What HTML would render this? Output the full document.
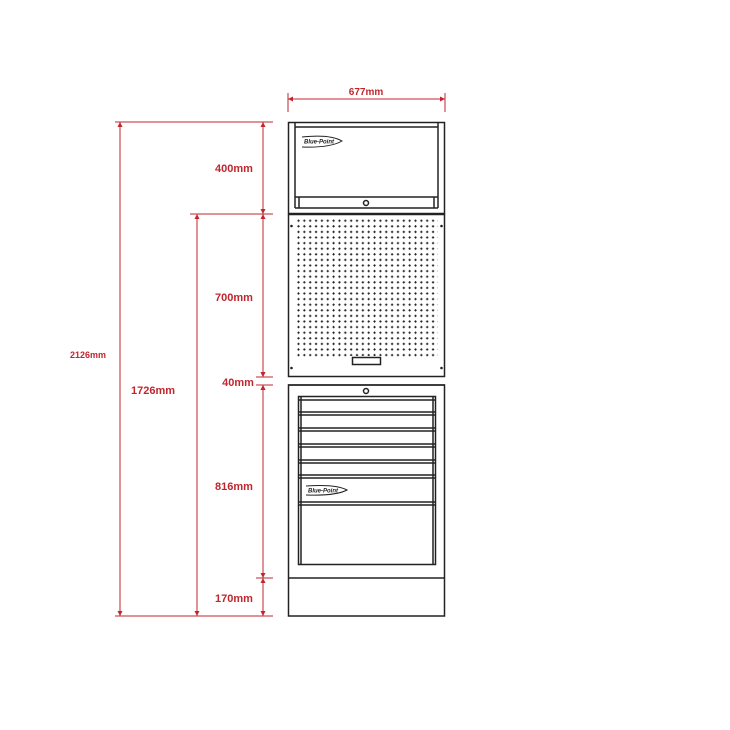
<!DOCTYPE html>
<html><head><style>html,body{margin:0;padding:0;background:#fff;width:730px;height:730px;overflow:hidden}</style></head>
<body>
<svg width="730" height="730" viewBox="0 0 730 730" xmlns="http://www.w3.org/2000/svg">
<defs>
<pattern id="dots" x="296" y="218" width="5.85" height="5.6" patternUnits="userSpaceOnUse">
<rect x="1.3" y="2.2" width="2.4" height="1" fill="#222"/>
<rect x="2" y="1.5" width="1" height="2.4" fill="#222"/>
</pattern>
<marker id="ar" viewBox="0 0 6 6" refX="6" refY="3" markerWidth="5" markerHeight="5" orient="auto-start-reverse"><path d="M0,0 L6,3 L0,6 z" fill="#c0262d"/></marker>
</defs>
<g stroke="#c0262d" stroke-width="1" fill="none">
<line x1="288" y1="99" x2="445" y2="99" marker-start="url(#ar)" marker-end="url(#ar)"/>
<line x1="288" y1="93" x2="288" y2="112"/><line x1="445" y1="93" x2="445" y2="112"/>
<line x1="115" y1="122" x2="273" y2="122"/>
<line x1="115" y1="616" x2="273" y2="616"/>
<line x1="190" y1="214" x2="273" y2="214"/>
<line x1="256" y1="377" x2="273" y2="377"/>
<line x1="256" y1="385" x2="273" y2="385"/>
<line x1="256" y1="578" x2="273" y2="578"/>
<line x1="120" y1="122" x2="120" y2="616" marker-start="url(#ar)" marker-end="url(#ar)"/>
<line x1="197" y1="214" x2="197" y2="616" marker-start="url(#ar)" marker-end="url(#ar)"/>
<line x1="263" y1="122" x2="263" y2="214" marker-start="url(#ar)" marker-end="url(#ar)"/>
<line x1="263" y1="214" x2="263" y2="377" marker-start="url(#ar)" marker-end="url(#ar)"/>
<line x1="263" y1="370" x2="263" y2="377" marker-end="url(#ar)"/>
<line x1="263" y1="392" x2="263" y2="385" marker-end="url(#ar)"/>
<line x1="263" y1="385" x2="263" y2="578" marker-start="url(#ar)" marker-end="url(#ar)"/>
<line x1="263" y1="578" x2="263" y2="616" marker-start="url(#ar)" marker-end="url(#ar)"/>
</g>
<g fill="#c0262d" font-family="Liberation Sans, sans-serif" font-weight="bold">
<text x="366" y="95" font-size="10" text-anchor="middle">677mm</text>
<text x="88" y="358" font-size="9" text-anchor="middle">2126mm</text>
<text x="153" y="394" font-size="11" text-anchor="middle">1726mm</text>
<text x="234" y="172" font-size="11" text-anchor="middle">400mm</text>
<text x="234" y="301" font-size="11" text-anchor="middle">700mm</text>
<text x="238" y="386" font-size="11" text-anchor="middle">40mm</text>
<text x="234" y="490" font-size="11" text-anchor="middle">816mm</text>
<text x="234" y="602" font-size="11" text-anchor="middle">170mm</text>
</g>
<g stroke="#222" fill="none" stroke-width="1.5">
<rect x="288.5" y="122.5" width="156" height="91"/>
<line x1="295" y1="122" x2="295" y2="208"/><line x1="438" y1="122" x2="438" y2="208"/>
<line x1="295" y1="127" x2="438" y2="127"/>
<line x1="295" y1="197" x2="438" y2="197"/>
<line x1="295" y1="208" x2="438" y2="208"/>
<line x1="299" y1="197" x2="299" y2="208"/><line x1="434" y1="197" x2="434" y2="208"/>
<circle cx="366" cy="203" r="2.5"/>
<rect x="288.5" y="214.5" width="156" height="162"/>
<line x1="288" y1="385" x2="445" y2="385"/>
<rect x="288.5" y="385" width="156" height="231"/>
<circle cx="366" cy="391" r="2.5"/>
<rect x="298.5" y="396.5" width="137" height="168"/>
<line x1="301" y1="397" x2="301" y2="564"/><line x1="433" y1="397" x2="433" y2="564"/>
<line x1="298" y1="400" x2="436" y2="400"/>
<line x1="298" y1="412" x2="436" y2="412"/><line x1="298" y1="415" x2="436" y2="415"/>
<line x1="298" y1="428" x2="436" y2="428"/><line x1="298" y1="431" x2="436" y2="431"/>
<line x1="298" y1="444" x2="436" y2="444"/><line x1="298" y1="447" x2="436" y2="447"/>
<line x1="298" y1="460" x2="436" y2="460"/><line x1="298" y1="463" x2="436" y2="463"/>
<line x1="298" y1="475" x2="436" y2="475"/><line x1="298" y1="478" x2="436" y2="478"/>
<line x1="298" y1="502" x2="436" y2="502"/><line x1="298" y1="505" x2="436" y2="505"/>
<line x1="288" y1="578" x2="445" y2="578"/>
</g>
<rect x="296" y="218" width="142" height="140" fill="url(#dots)"/>
<rect x="350" y="356" width="33" height="9" fill="#fff"/>
<rect x="352.5" y="357.5" width="28" height="7" fill="none" stroke="#222" stroke-width="1.5"/>
<circle cx="291.5" cy="226" r="1.3" fill="#222"/><circle cx="441.5" cy="226" r="1.3" fill="#222"/>
<circle cx="291.5" cy="368" r="1.3" fill="#222"/><circle cx="441.5" cy="368" r="1.3" fill="#222"/>
<g font-family="Liberation Sans, sans-serif" font-style="italic" font-weight="bold" font-size="6" fill="#222">
<path d="M302,137 Q330,134 342,141 Q330,148 302,147" fill="none" stroke="#222" stroke-width="1"/>
<text x="304" y="143.5">Blue-Point</text>
<path d="M306,486 Q336,484 347,490 Q336,496 306,495" fill="none" stroke="#222" stroke-width="1"/>
<text x="308" y="492.5">Blue-Point</text>
</g>
</svg>
</body></html>
